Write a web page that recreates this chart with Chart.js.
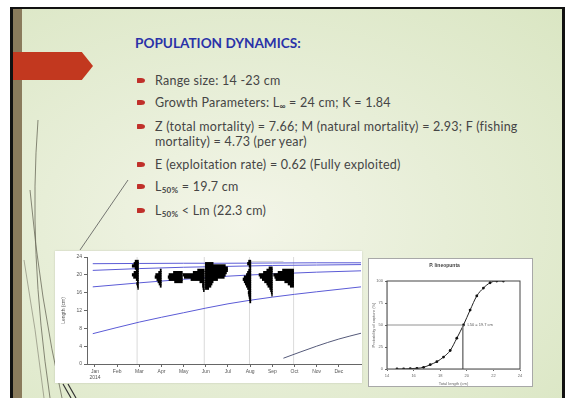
<!DOCTYPE html>
<html>
<head>
<meta charset="utf-8">
<script src="https://cdn.jsdelivr.net/npm/chart.js@4.4.0/dist/chart.umd.min.js"></script>
<style>
  html, body { margin: 0; padding: 0; background: #fff; }
  body { width: 569px; height: 398px; position: relative; overflow: hidden; font-family: Lato, 'Open Sans', sans-serif; }
  .abs { position: absolute; }
  #frame { left: 10px; top: 7px; width: 555px; height: 391px; background: #111; }
  #slide { left: 13px; top: 9px; width: 549px; height: 389px;
    background: radial-gradient(ellipse at 42% 55%, #f3f5e8 0%, #e7eed7 45%, #dae6c3 100%); }
  #stripe { left: 13px; top: 9px; width: 9px; height: 389px; background: #8a7b5c; }
  #tab { left: 13px; top: 52px; width: 80px; height: 28px; background: #c2381f;
    clip-path: polygon(0 0, 86% 0, 100% 50%, 86% 100%, 0 100%); }
  #title { left: 135px; top: 35px; font-size: 13.6px; font-weight: bold; color: #2a32a8; }
  .item { left: 155px; font-size: 12.5px; color: #454545; line-height: 15px; white-space: nowrap; letter-spacing: 0.25px; }
  .item sub { font-size: 8px; font-weight: bold; vertical-align: -2px; }
  .dot { left: 137px; width: 8px; height: 5px; background: #c0302a; border-radius: 1px 60% 60% 1px; }
  #panelL { left: 55px; top: 251px; width: 307px; height: 132px; background: #fff; box-shadow: 0 0 2px rgba(0,0,0,0.15); }
  #panelR { left: 368px; top: 258px; width: 163px; height: 127px; background: #fff; border: 1px solid #a8a8a8; }
</style>
</head>
<body>
<div id="frame" class="abs"></div>
<div id="slide" class="abs"></div>
<div id="stripe" class="abs"></div>
<svg class="abs" style="left:0;top:0" width="569" height="398">
  <path d="M38 120 Q28 250 50 398" stroke="#6b6b5a" stroke-width="0.8" fill="none"/>
  <path d="M30 190 Q40 300 62 398" stroke="#6b6b5a" stroke-width="0.8" fill="none"/>
  <path d="M24 260 Q36 330 44 398" stroke="#8a8a78" stroke-width="0.7" fill="none"/>
  <path d="M80 250 L128 180" stroke="#555" stroke-width="0.8" fill="none"/>
  <path d="M63 384 L71 398 M68 384 L76 398" stroke="#333" stroke-width="1.2" fill="none"/>
</svg>
<div id="tab" class="abs"></div>

<div id="title" class="abs">POPULATION DYNAMICS:</div>

<div class="dot abs" style="top:78px"></div>
<div class="item abs" style="top:73px">Range size: 14 -23 cm</div>
<div class="dot abs" style="top:100px"></div>
<div class="item abs" style="top:95px">Growth Parameters: L<sub>∞</sub> = 24 cm; K = 1.84</div>
<div class="dot abs" style="top:124px"></div>
<div class="item abs" style="top:119px">Z (total mortality) = 7.66; M (natural mortality) = 2.93; F (fishing<br>mortality) = 4.73 (per year)</div>
<div class="dot abs" style="top:162px"></div>
<div class="item abs" style="top:157px">E (exploitation rate) = 0.62 (Fully exploited)</div>
<div class="dot abs" style="top:184px"></div>
<div class="item abs" style="top:179px">L<sub>50%</sub> = 19.7 cm</div>
<div class="dot abs" style="top:208px"></div>
<div class="item abs" style="top:203px">L<sub>50%</sub> &lt; Lm (22.3 cm)</div>

<div id="panelL" class="abs"><canvas id="growthChart" width="307" height="132"></canvas></div>
<div id="panelR" class="abs"><canvas id="ogiveChart" width="163" height="127"></canvas></div>

<script>
// eje de meses del grafico de crecimiento
const months = ['Jan', 'Feb', 'Mar', 'Apr', 'May', 'Jun', 'Jul', 'Aug', 'Sep', 'Oct', 'Nov', 'Dec'];
const yearLabel = '2014';

// curvas de crecimiento (mes, longitud cm)
const curveMonths = [-0.1, 2, 4, 6, 8, 10, 12];
const curveA = [6.8, 9.4, 11.5, 13.5, 15.0, 16.2, 17.3];
const curveB = [17.3, 18.2, 19.0, 19.7, 20.2, 20.6, 20.9];
const curveC = [21.0, 21.4, 21.7, 21.9, 22.1, 22.2, 22.3];
const curveD = [22.5, 22.55, 22.6, 22.6, 22.65, 22.7, 22.7];
const curveEMonths = [8.5, 10, 11, 12];
const curveE = [1.3, 4.0, 5.6, 6.9];
const greyMonths = [6.9, 8.5];
const greyLine = [23.0, 23.0];

// fechas de muestreo (lineas verticales)
const sampleLines = [1.9, 4.93, 6.97, 8.96];

// frecuencias reestructuradas: una lista por muestra, de la clase mayor hacia abajo cada 0.5 cm
const sampleEdge = [1.96, 2.99, 3.94, 4.93, 4.98, 7.03, 8.0, 8.96];
const sampleSide = [-1, -1, -1, -1, 1, -1, -1, -1];
const sampleTop = [23, 21, 20.5, 21, 22.5, 23, 21.5, 21];
const sampleFreq = [
  [0.15, 0.2, 0.28, 0.15, 0.1, 0.2, 0.28, 0.22, 0.1, 0.05, 0.08, 0.05, 0.03],
  [0.05, 0.12, 0.25, 0.28, 0.2, 0.15, 0.1, 0.05],
  [0.4, 0.6, 0.64, 0.6, 0.35],
  [0.3, 0.5, 0.95, 0.9, 0.6, 0.2, 0.08, 0.08, 0.06, 0.04],
  [0.35, 0.9, 1.0, 1.0, 0.95, 0.9, 0.85, 0.55, 0.35, 0.3, 0.25, 0.15],
  [0.1, 0.15, 0.08, 0.05, 0.1, 0.15, 0.2, 0.3, 0.35, 0.3, 0.25, 0.2, 0.15, 0.1, 0.12, 0.1, 0.08, 0.06, 0.05],
  [0.15, 0.25, 0.4, 0.6, 0.55, 0.45, 0.35, 0.25, 0.2, 0.12, 0.08, 0.05, 0.03],
  [0.5, 0.7, 0.9, 0.85, 0.8, 0.4, 0.25, 0.15]
];

// ojiva de seleccion
const selLength = [14.75, 15.25, 15.75, 16.25, 16.75, 17.25, 17.75, 18.25, 18.75, 19.25, 19.75, 20.25, 20.75, 21.25, 21.75, 22.25, 22.75];
const selProb = [0, 0, 0.4, 0.8, 1.9, 4.9, 8.3, 13.6, 21, 35, 50, 67, 83, 92, 98, 100, 100];
const l50 = 19.7;
const lengthTicks = [14, 16, 18, 20, 22, 24];
const probTicks = [0, 25, 50, 75, 100];
const ogiveTitle = 'P. lineopunta';

const tinyFont = { family: "'Liberation Sans', Arial, sans-serif", size: 5 };

function pares(xs, ys) {
  return xs.map((x, i) => ({ x: x, y: ys[i] }));
}

function lineaCrecimiento(xs, ys, color) {
  return { type: 'line', data: pares(xs, ys), borderColor: color, borderWidth: 1, pointRadius: 0, cubicInterpolationMode: 'monotone', order: 2 };
}

// barras horizontales flotantes para los histogramas
const histBars = [];
sampleFreq.forEach((freqs, s) => {
  freqs.forEach((f, k) => {
    const edge = sampleEdge[s];
    histBars.push({ y: sampleTop[s] - 0.5 * k, x: sampleSide[s] < 0 ? [edge - f, edge] : [edge, edge + f] });
  });
});

const verticales = sampleLines.map(m => ({
  type: 'line', data: [{ x: m, y: 0 }, { x: m, y: 24 }], borderColor: '#d0d0d0', borderWidth: 0.8, pointRadius: 0, order: 3
}));

new Chart(document.getElementById('growthChart'), {
  type: 'line',
  data: {
    datasets: [
      ...verticales,
      { type: 'bar', indexAxis: 'y', data: histBars, backgroundColor: '#000', barThickness: 2.6, grouped: false, order: 1 },
      lineaCrecimiento(curveMonths, curveA, '#5b5bd6'),
      lineaCrecimiento(curveMonths, curveB, '#5b5bd6'),
      lineaCrecimiento(curveMonths, curveC, '#5b5bd6'),
      lineaCrecimiento(curveMonths, curveD, '#5b5bd6'),
      lineaCrecimiento(curveEMonths, curveE, '#555a7a'),
      lineaCrecimiento(greyMonths, greyLine, '#d4d4d4')
    ]
  },
  options: {
    responsive: false,
    animation: false,
    layout: { padding: { top: 6, right: 1, left: 0, bottom: 0 } },
    plugins: { legend: { display: false }, tooltip: { enabled: false } },
    scales: {
      x: {
        type: 'linear', min: -0.36, max: 12, offset: false,
        afterBuildTicks: s => { s.ticks = months.map((m, i) => ({ value: i })); },
        afterFit: s => { s.height = 19; },
        ticks: { font: tinyFont, color: '#555', padding: 2, maxRotation: 0, autoSkip: false,
          callback: v => v === 0 ? [months[0], yearLabel] : months[v] },
        grid: { display: true, drawOnChartArea: false, tickLength: 3, color: '#666', offset: false },
        border: { color: '#666', width: 1 }
      },
      y: {
        type: 'linear', min: 0, max: 24, offset: false,
        afterFit: s => { s.width = 32; },
        ticks: { stepSize: 2, font: tinyFont, color: '#555', padding: 2 },
        grid: { display: true, drawOnChartArea: false, tickLength: 3, color: '#666', offset: false },
        border: { color: '#666', width: 1 },
        title: { display: true, text: 'Length (cm)', font: tinyFont, color: '#555', padding: { top: 6, bottom: 0 } }
      }
    }
  }
});

// marco completo alrededor del area de la ojiva
const marco = {
  id: 'marco',
  afterDatasetsDraw(chart) {
    const { ctx, chartArea: a, scales } = chart;
    ctx.save();
    ctx.strokeStyle = '#444';
    ctx.lineWidth = 1;
    ctx.strokeRect(a.left, a.top, a.right - a.left, a.bottom - a.top);
    ctx.fillStyle = '#555';
    ctx.font = "4px 'Liberation Sans', Arial, sans-serif";
    ctx.textBaseline = 'middle';
    ctx.fillText('L50 = ' + l50 + ' cm', scales.x.getPixelForValue(l50 + 0.35), scales.y.getPixelForValue(50));
    ctx.restore();
  }
};

new Chart(document.getElementById('ogiveChart'), {
  type: 'line',
  data: {
    datasets: [
      { data: [{ x: lengthTicks[0], y: 50 }, { x: l50, y: 50 }, { x: l50, y: 0 }], borderColor: '#777', borderWidth: 0.8, pointRadius: 0 },
      { data: pares(selLength, selProb), borderColor: '#222', borderWidth: 1, cubicInterpolationMode: 'monotone',
        pointRadius: 1.4, pointBackgroundColor: '#111', pointBorderWidth: 0 }
    ]
  },
  options: {
    responsive: false,
    animation: false,
    layout: { padding: { top: 0, right: 12, left: 0, bottom: 0 } },
    plugins: {
      legend: { display: false }, tooltip: { enabled: false },
      title: { display: true, text: ogiveTitle, font: { family: tinyFont.family, size: 5 }, color: '#444', padding: { top: 4, bottom: 12 } }
    },
    scales: {
      x: {
        type: 'linear', min: lengthTicks[0], max: lengthTicks[lengthTicks.length - 1],
        afterBuildTicks: s => { s.ticks = lengthTicks.map(v => ({ value: v })); },
        afterFit: s => { s.height = 17; },
        ticks: { font: { family: tinyFont.family, size: 4 }, color: '#666', padding: 2 },
        grid: { display: true, drawOnChartArea: false, tickLength: 2, color: '#666' },
        title: { display: true, text: 'Total length (cm)', font: { family: tinyFont.family, size: 4 }, color: '#666', padding: 0 }
      },
      y: {
        type: 'linear', min: 0, max: 100,
        afterBuildTicks: s => { s.ticks = probTicks.map(v => ({ value: v })); },
        afterFit: s => { s.width = 18; },
        ticks: { font: { family: tinyFont.family, size: 4 }, color: '#666', padding: 2 },
        grid: { display: true, drawOnChartArea: false, tickLength: 2, color: '#666' },
        title: { display: true, text: 'Probability of capture (%)', font: { family: tinyFont.family, size: 4 }, color: '#666', padding: { top: 2, bottom: 0 } }
      }
    }
  },
  plugins: [marco]
});
</script>
</body>
</html>
